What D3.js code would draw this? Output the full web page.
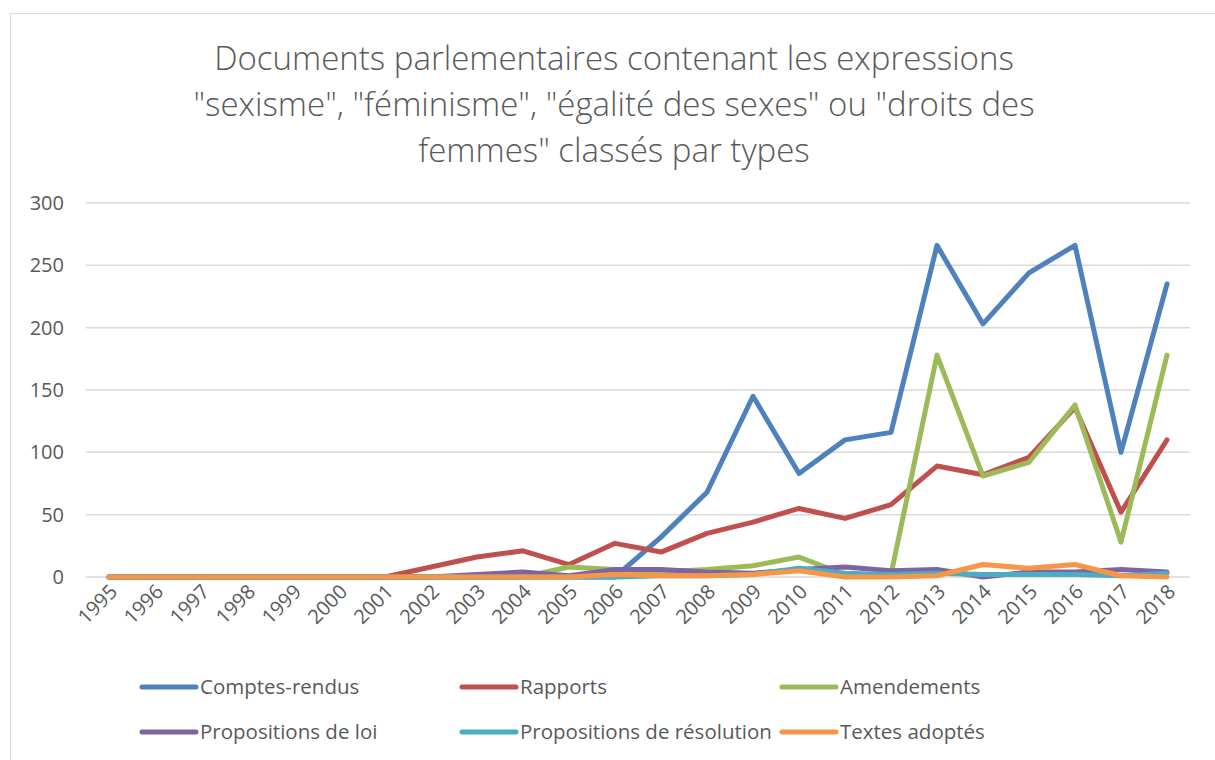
<!DOCTYPE html>
<html>
<meta charset="utf-8">
<title>Documents parlementaires</title>
<style>
	body { margin: 0; background-color: #ffffff; }
	svg text { font-family: "Open Sans", "Noto Sans", sans-serif; fill: #595959; }
	.title { font-size: 33px; font-weight: 300; }
	.tick-label { font-size: 20px; }
	.legend-label { font-size: 20.5px; }
</style>
<body>
<div id="chart"></div>
<script src="https://cdn.jsdelivr.net/npm/d3@7"></script>
<script>

	// Data
	var years = ["1995","1996","1997","1998","1999","2000","2001","2002","2003","2004","2005","2006",
		"2007","2008","2009","2010","2011","2012","2013","2014","2015","2016","2017","2018"];

	var comptesRendus = [0,0,0,0,0,0,0,0,0,0,0,0,32,68,145,83,110,116,266,203,244,266,100,235];
	var rapports      = [0,0,0,0,0,0,0,8,16,21,10,27,20,35,44,55,47,58,89,82,96,136,52,110];
	var amendements   = [0,0,0,0,0,0,0,0,0,0,8,6,4,6,9,16,2,2,178,81,92,138,28,178];
	var propLoi       = [0,0,0,0,0,0,0,0,2,4,1,6,6,4,3,6,8,5,6,0,4,4,6,4];
	var propRes       = [0,0,0,0,0,0,0,0,0,0,0,0,1,1,2,7,3,2,3,2,2,2,1,3];
	var textesAdoptes = [0,0,0,0,0,0,0,0,0,0,0,2,1,1,2,5,0,0,1,10,7,10,1,0];

	var yTicks = [0, 50, 100, 150, 200, 250, 300];

	var titleLines = [
		"Documents parlementaires contenant les expressions",
		"\"sexisme\", \"féminisme\", \"égalité des sexes\" ou \"droits des",
		"femmes\" classés par types"
	];

	var series = [
		{ name: "Comptes-rendus", values: comptesRendus, color: "#4f81bd" },
		{ name: "Rapports", values: rapports, color: "#c0504d" },
		{ name: "Amendements", values: amendements, color: "#9bbb59" },
		{ name: "Propositions de loi", values: propLoi, color: "#8064a2" },
		{ name: "Propositions de résolution", values: propRes, color: "#4bacc6" },
		{ name: "Textes adoptés", values: textesAdoptes, color: "#f79646" }
	];

	// Dimensions
	var W = 1215, H = 760;
	var plot = { left: 86, right: 1190, top: 203, bottom: 577 };

	var svg = d3.select("#chart").append("svg")
		.attr("width", W)
		.attr("height", H);

	// chart frame
	svg.append("rect")
		.attr("x", 10.5).attr("y", 13.5)
		.attr("width", W).attr("height", H)
		.attr("fill", "#ffffff")
		.attr("stroke", "#d9d9d9")
		.attr("stroke-width", 1);

	// Title
	svg.append("text")
		.attr("class", "title")
		.attr("text-anchor", "middle")
		.selectAll("tspan")
		.data(titleLines).enter().append("tspan")
		.attr("x", 614)
		.attr("y", function (d, i) { return 70 + i * 46; })
		.text(function (d) { return d; });

	// Scales
	var x = d3.scalePoint().domain(years).range([plot.left, plot.right]).padding(0.5);
	var y = d3.scaleLinear().domain([0, 300]).range([plot.bottom, plot.top]);

	// Grid lines
	svg.append("g")
		.selectAll("line")
		.data(yTicks).enter().append("line")
		.attr("x1", plot.left).attr("x2", plot.right)
		.attr("y1", function (d) { return y(d); })
		.attr("y2", function (d) { return y(d); })
		.attr("stroke", "#d9d9d9")
		.attr("stroke-width", 1.5);

	// Y axis labels
	var yAxis = d3.axisLeft(y).tickValues(yTicks).tickSize(0).tickPadding(22);
	var gy = svg.append("g")
		.attr("transform", "translate(" + plot.left + ",0)")
		.call(yAxis);
	gy.select(".domain").remove();
	gy.selectAll("text").attr("class", "tick-label").attr("fill", null);

	// X axis labels
	var xAxis = d3.axisBottom(x).tickSize(0).tickPadding(0);
	var gx = svg.append("g")
		.attr("transform", "translate(0," + plot.bottom + ")")
		.call(xAxis);
	gx.select(".domain").remove();
	gx.selectAll("text")
		.attr("class", "tick-label")
		.attr("fill", null)
		.attr("text-anchor", "end")
		.attr("dy", null)
		.attr("y", 0)
		.attr("transform", "translate(9,16) rotate(-45)");

	// Lines
	var line = d3.line()
		.x(function (d, i) { return x(years[i]); })
		.y(function (d) { return y(d); });

	svg.append("g")
		.selectAll("path")
		.data(series).enter().append("path")
		.attr("d", function (d) { return line(d.values); })
		.attr("fill", "none")
		.attr("stroke", function (d) { return d.color; })
		.attr("stroke-width", 5)
		.attr("stroke-linejoin", "round")
		.attr("stroke-linecap", "round");

	// Legend
	var legend = svg.append("g")
		.selectAll("g")
		.data(series).enter().append("g")
		.attr("transform", function (d, i) {
			return "translate(" + (142 + (i % 3) * 320) + "," + (687 + Math.floor(i / 3) * 45) + ")";
		});

	legend.append("line")
		.attr("x1", 0).attr("x2", 54)
		.attr("y1", 0).attr("y2", 0)
		.attr("stroke", function (d) { return d.color; })
		.attr("stroke-width", 5)
		.attr("stroke-linecap", "round");

	legend.append("text")
		.attr("class", "legend-label")
		.attr("x", 58)
		.attr("y", 0)
		.attr("dy", "0.35em")
		.text(function (d) { return d.name; });

</script>
</body>
</html>
